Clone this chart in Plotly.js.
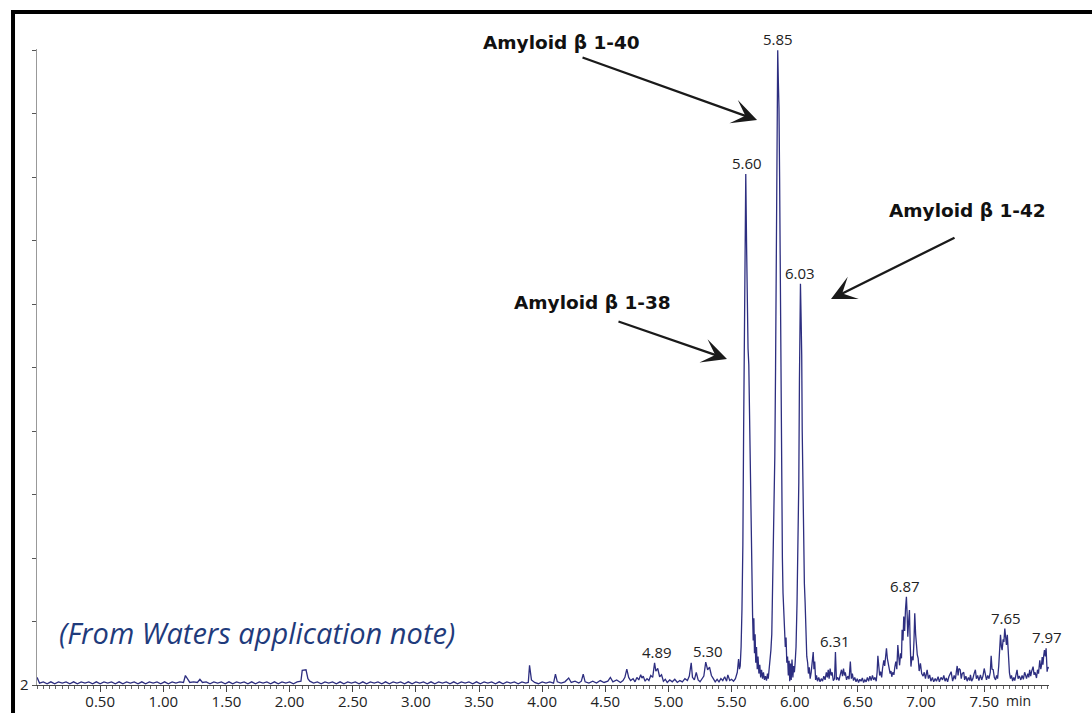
<!DOCTYPE html>
<html><head><meta charset="utf-8">
<script src="https://cdn.plot.ly/plotly-3.0.1.min.js"></script>
<style>html,body{margin:0;padding:0;background:#fff}#chart{width:1092px;height:713px}</style>
</head><body><div id="chart"></div>
<script>
// Retention time (min) and relative signal (%), in four segments
const rtBaseline = [
  0.00, 0.02, 0.05, 0.08, 0.11, 0.14, 0.17, 0.20, 0.23, 0.26,
  0.29, 0.32, 0.35, 0.38, 0.41, 0.44, 0.47, 0.50, 0.53, 0.56,
  0.59, 0.62, 0.65, 0.68, 0.71, 0.74, 0.77, 0.80, 0.83, 0.86,
  0.89, 0.92, 0.95, 0.98, 1.01, 1.04, 1.07, 1.10, 1.13, 1.16,
  1.175, 1.19, 1.21, 1.24, 1.27, 1.29, 1.31, 1.34, 1.37, 1.40,
  1.43, 1.46, 1.49, 1.52, 1.55, 1.58, 1.61, 1.64, 1.67, 1.70,
  1.73, 1.76, 1.79, 1.82, 1.85, 1.88, 1.91, 1.94, 1.97, 2.00,
  2.03, 2.06, 2.09, 2.10, 2.13, 2.145, 2.16, 2.19, 2.22, 2.25,
  2.28, 2.31, 2.34, 2.37, 2.40, 2.43, 2.46, 2.49, 2.52, 2.55,
  2.58, 2.61, 2.64, 2.67, 2.70, 2.73, 2.76, 2.79, 2.82, 2.85,
  2.88, 2.91, 2.94, 2.97, 3.00, 3.03, 3.06, 3.09, 3.12, 3.15,
  3.18, 3.21, 3.24, 3.27, 3.30, 3.33, 3.36, 3.39, 3.42, 3.45,
  3.48, 3.51, 3.54, 3.57, 3.60, 3.63, 3.66, 3.69, 3.72, 3.75,
  3.78, 3.81, 3.84, 3.87, 3.89, 3.90, 3.915, 3.94
];
const sigBaseline = [
  1.2, 0.3, 0.5, 0.2, 0.5, 0.2, 0.5, 0.3, 0.5, 0.2,
  0.5, 0.2, 0.5, 0.3, 0.5, 0.2, 0.5, 0.2, 0.5, 0.3,
  0.5, 0.2, 0.5, 0.2, 0.5, 0.3, 0.5, 0.2, 0.5, 0.2,
  0.5, 0.3, 0.5, 0.2, 0.5, 0.2, 0.5, 0.3, 0.5, 0.4,
  1.5, 1.0, 0.4, 0.5, 0.4, 0.9, 0.4, 0.5, 0.2, 0.5,
  0.3, 0.5, 0.2, 0.5, 0.2, 0.5, 0.3, 0.5, 0.2, 0.5,
  0.2, 0.5, 0.3, 0.5, 0.2, 0.5, 0.2, 0.5, 0.3, 0.5,
  0.2, 0.5, 0.6, 2.3, 2.4, 1.0, 0.6, 0.3, 0.5, 0.2,
  0.5, 0.3, 0.5, 0.2, 0.5, 0.2, 0.5, 0.3, 0.5, 0.2,
  0.5, 0.2, 0.5, 0.3, 0.5, 0.2, 0.5, 0.2, 0.5, 0.3,
  0.5, 0.2, 0.5, 0.2, 0.5, 0.3, 0.5, 0.2, 0.5, 0.2,
  0.5, 0.3, 0.5, 0.2, 0.5, 0.2, 0.5, 0.3, 0.5, 0.2,
  0.5, 0.2, 0.5, 0.3, 0.5, 0.2, 0.5, 0.2, 0.5, 0.3,
  0.5, 0.2, 0.5, 0.3, 0.4, 3.1, 0.8, 0.4
];
const rtEarly = [
  3.97, 4.00, 4.03, 4.06, 4.09, 4.105, 4.12, 4.15, 4.18, 4.21,
  4.23, 4.26, 4.29, 4.31, 4.325, 4.34, 4.37, 4.40, 4.43, 4.46,
  4.49, 4.52, 4.54, 4.56, 4.59, 4.62, 4.64, 4.655, 4.67, 4.685,
  4.70, 4.72, 4.735, 4.75, 4.765, 4.78, 4.79, 4.80, 4.815, 4.83,
  4.845, 4.86, 4.875, 4.89, 4.90, 4.915, 4.93, 4.945, 4.96, 4.975,
  4.99, 5.01, 5.03, 5.05, 5.07, 5.09, 5.11, 5.13, 5.15, 5.165,
  5.18, 5.19, 5.205, 5.22, 5.235, 5.25, 5.265, 5.28, 5.295, 5.31,
  5.325, 5.34, 5.355, 5.37, 5.385, 5.40, 5.415, 5.43, 5.445, 5.46,
  5.47, 5.485, 5.50, 5.515, 5.53, 5.545, 5.555, 5.562
];
const sigEarly = [
  0.2, 0.5, 0.3, 0.5, 0.3, 1.7, 0.5, 0.3, 0.5, 1.1,
  0.4, 0.6, 0.3, 0.6, 1.7, 0.5, 0.3, 0.6, 0.3, 0.7,
  0.4, 0.6, 1.2, 0.5, 0.8, 0.4, 0.7, 1.2, 2.5, 1.2,
  0.7, 1.0, 0.5, 1.2, 0.8, 1.6, 1.1, 1.4, 0.6, 1.0,
  0.7, 1.5, 1.2, 3.5, 2.2, 2.6, 1.3, 1.6, 0.6, 0.9,
  0.4, 0.8, 0.5, 0.9, 0.4, 0.7, 0.5, 1.0, 0.7, 1.4,
  3.5, 1.2, 0.8, 2.0, 0.8, 0.5, 0.9, 1.4, 3.6, 2.4,
  2.8, 1.5, 1.0, 0.5, 0.9, 0.5, 1.0, 0.7, 1.3, 0.6,
  1.6, 0.7, 0.9, 0.6, 1.0, 2.0, 4.1, 2.5
];
const rtPeaks = [
  5.568, 5.575, 5.582, 5.589, 5.595, 5.600, 5.606, 5.612, 5.618, 5.624,
  5.630, 5.636, 5.642, 5.648, 5.654, 5.660, 5.666, 5.671, 5.676, 5.681,
  5.686, 5.691, 5.697, 5.703, 5.709, 5.716, 5.723, 5.730, 5.737, 5.745,
  5.752, 5.760, 5.768, 5.776, 5.784, 5.790, 5.797, 5.804, 5.811, 5.818,
  5.824, 5.830, 5.836, 5.842, 5.848, 5.854, 5.860, 5.865, 5.870, 5.875,
  5.880, 5.886, 5.892, 5.897, 5.902, 5.907, 5.913, 5.919, 5.925, 5.931,
  5.937, 5.943, 5.949, 5.955, 5.960, 5.966, 5.972, 5.978, 5.985, 5.991,
  5.997, 6.003, 6.010, 6.018, 6.025, 6.032, 6.037, 6.041, 6.045, 6.050,
  6.055, 6.059, 6.064, 6.070, 6.076, 6.082, 6.088, 6.095, 6.102, 6.108,
  6.115, 6.122
];
const sigPeaks = [
  3.0, 6.0, 12, 22, 40, 58, 72, 80.5, 70, 58,
  53, 50.5, 42, 30, 22, 13, 11, 7, 10.5, 5,
  8, 3.5, 6, 2.5, 4.5, 1.8, 3.2, 1.2, 2.4, 1.0,
  2.0, 0.8, 1.4, 0.7, 1.8, 1.0, 2.5, 3.2, 5.5, 8,
  14, 22, 31, 36, 50, 72, 92, 100, 95, 91,
  80, 60, 40, 30, 20, 14.5, 11, 9, 6, 7.5,
  3.5, 4.5, 1.5, 3.8, 0.6, 3.4, 0.8, 4.0, 1.2, 3.0,
  2.0, 3.5, 6, 13, 22, 32, 48, 60, 63.2, 58,
  52, 40, 33, 20, 16, 13, 8, 4.5, 3.5, 1.8,
  2.8, 1.0
];
const rtLate = [
  6.130, 6.138, 6.146, 6.152, 6.158, 6.165, 6.172, 6.180, 6.190, 6.200,
  6.210, 6.220, 6.230, 6.240, 6.250, 6.258, 6.265, 6.272, 6.280, 6.288,
  6.296, 6.305, 6.315, 6.322, 6.330, 6.340, 6.350, 6.360, 6.370, 6.378,
  6.386, 6.394, 6.400, 6.410, 6.420, 6.430, 6.440, 6.448, 6.456, 6.465,
  6.475, 6.485, 6.495, 6.505, 6.515, 6.525, 6.535, 6.545, 6.555, 6.565,
  6.575, 6.585, 6.595, 6.605, 6.615, 6.625, 6.635, 6.645, 6.652, 6.658,
  6.665, 6.672, 6.680, 6.688, 6.695, 6.705, 6.712, 6.718, 6.726, 6.733,
  6.740, 6.747, 6.755, 6.762, 6.768, 6.776, 6.785, 6.792, 6.800, 6.808,
  6.816, 6.823, 6.830, 6.838, 6.845, 6.850, 6.857, 6.863, 6.870, 6.877,
  6.884, 6.890, 6.895, 6.900, 6.908, 6.914, 6.920, 6.928, 6.937, 6.944,
  6.950, 6.957, 6.963, 6.970, 6.977, 6.985, 6.995, 7.005, 7.016, 7.025,
  7.035, 7.048, 7.058, 7.068, 7.078, 7.090, 7.100, 7.112, 7.122, 7.135,
  7.145, 7.158, 7.170, 7.180, 7.190, 7.200, 7.210, 7.220, 7.238, 7.250,
  7.262, 7.272, 7.280, 7.286, 7.293, 7.300, 7.310, 7.318, 7.326, 7.338,
  7.345, 7.355, 7.365, 7.375, 7.385, 7.391, 7.400, 7.410, 7.420, 7.430,
  7.438, 7.448, 7.458, 7.470, 7.480, 7.490, 7.500, 7.510, 7.518, 7.528,
  7.538, 7.548, 7.555, 7.562, 7.571, 7.580, 7.590, 7.598, 7.606, 7.615,
  7.622, 7.629, 7.636, 7.642, 7.650, 7.656, 7.663, 7.670, 7.676, 7.683,
  7.690, 7.695, 7.700, 7.708, 7.716, 7.725, 7.734, 7.742, 7.750, 7.760,
  7.768, 7.778, 7.790, 7.800, 7.810, 7.820, 7.827, 7.835, 7.845, 7.853,
  7.860, 7.868, 7.876, 7.887, 7.895, 7.903, 7.914, 7.922, 7.930, 7.940,
  7.948, 7.953, 7.959, 7.965, 7.971, 7.977, 7.984, 7.990, 7.998, 8.004,
  8.011
];
const sigLate = [
  2.0, 3.5, 5.2, 2.5, 3.7, 0.8, 1.5, 0.6, 1.2, 0.5,
  1.0, 0.6, 1.4, 0.8, 2.0, 1.2, 2.4, 1.0, 2.6, 1.5,
  2.0, 0.7, 1.0, 5.2, 0.8, 1.2, 0.7, 1.6, 2.4, 1.4,
  2.6, 1.5, 2.0, 0.8, 1.4, 0.9, 3.7, 1.0, 1.8, 0.7,
  1.2, 0.5, 1.0, 0.4, 0.9, 0.6, 1.1, 0.4, 0.8, 0.5,
  1.2, 0.6, 1.4, 0.7, 1.5, 0.8, 1.2, 0.6, 2.0, 4.6,
  2.8, 1.5, 2.1, 1.2, 2.6, 3.9, 3.0, 4.8, 5.8, 4.2,
  3.5, 2.9, 1.8, 2.2, 1.3, 2.0, 1.6, 2.8, 3.7, 2.5,
  6.3, 4.5, 3.1, 5.0, 4.2, 8.7, 7.0, 10.8, 8.5, 12.0,
  13.9, 11.0, 7.6, 9.5, 11.8, 6.5, 2.9, 4.5, 3.9, 7.0,
  11.3, 8.0, 5.8, 4.8, 4.2, 2.2, 3.4, 1.8, 1.4, 2.0,
  1.0, 2.4, 1.0, 1.6, 0.6, 1.2, 0.5, 1.0, 0.6, 1.3,
  0.5, 1.2, 0.8, 1.5, 0.6, 1.1, 0.5, 1.3, 2.1, 0.6,
  1.5, 0.9, 2.2, 3.0, 1.5, 2.6, 2.4, 1.0, 1.8, 2.0,
  0.8, 1.4, 0.6, 1.2, 0.7, 1.6, 0.6, 1.0, 1.8, 2.4,
  1.0, 1.5, 0.7, 1.6, 0.8, 1.4, 2.6, 1.2, 0.8, 1.5,
  1.0, 2.0, 4.6, 2.5, 2.4, 1.2, 0.8, 1.5, 1.0, 3.0,
  5.0, 7.9, 6.0, 5.5, 7.2, 6.8, 8.9, 6.5, 6.3, 7.9,
  5.0, 3.5, 1.9, 1.0, 1.5, 0.6, 1.2, 0.7, 1.6, 2.4,
  1.0, 1.4, 0.8, 1.5, 0.9, 2.0, 1.6, 1.0, 1.8, 1.2,
  2.4, 1.4, 2.2, 2.9, 1.6, 2.0, 1.1, 2.4, 1.8, 3.9,
  2.5, 3.0, 4.4, 3.2, 4.6, 5.5, 4.5, 5.8, 2.1, 2.8,
  2.6
];

// Peak retention-time labels
const peakLabels = ['4.89', '5.30', '5.60', '5.85', '6.03', '6.31', '6.87', '7.65', '7.97'];
const peakLabelRT = [4.91, 5.31, 5.62, 5.87, 6.04, 6.32, 6.87, 7.67, 8.00];
const peakLabelHeight = [3.5, 3.6, 80.5, 100, 63.2, 5.2, 13.9, 8.9, 5.8];

// Compound call-outs
const compoundNames = ['Amyloid β 1-40', 'Amyloid β 1-38', 'Amyloid β 1-42'];

// Axis ticks
const xTickVals = [0.5, 1.0, 1.5, 2.0, 2.5, 3.0, 3.5, 4.0, 4.5, 5.0, 5.5, 6.0, 6.5, 7.0, 7.5];
const xTickText = ['0.50', '1.00', '1.50', '2.00', '2.50', '3.00', '3.50', '4.00', '4.50', '5.00', '5.50', '6.00', '6.50', '7.00', '7.50'];
const yTickVals = [0, 10, 20, 30, 40, 50, 60, 70, 80, 90, 100];
const yTickText = ['2', '', '', '', '', '', '', '', '', '', ''];

const rt = [].concat(rtBaseline, rtEarly, rtPeaks, rtLate);
const signal = [].concat(sigBaseline, sigEarly, sigPeaks, sigLate);

const trace = {
  x: rt, y: signal, type: 'scatter', mode: 'lines',
  line: {color: '#2d2e80', width: 1.3},
  hoverinfo: 'x+y'
};

const tickFont = {family: 'Open Sans, sans-serif', size: 15, color: '#222'};

const annotations = [];
peakLabels.forEach((txt, i) => {
  annotations.push({
    x: peakLabelRT[i], y: peakLabelHeight[i], xref: 'x', yref: 'y',
    text: txt, showarrow: false, xanchor: 'center', yanchor: 'bottom',
    font: tickFont, borderpad: 0
  });
});

const calloutFont = {family: 'DejaVu Sans, sans-serif', size: 18.5, color: '#111', weight: 700};
const calloutText = [
  {x: 0.4387, y: 1.011},
  {x: 0.4694, y: 0.6022},
  {x: 0.8399, y: 0.7453}
];
compoundNames.forEach((name, i) => {
  annotations.push({
    x: calloutText[i].x, y: calloutText[i].y, xref: 'paper', yref: 'paper',
    text: '<b>' + name + '</b>', showarrow: false, xanchor: 'left', yanchor: 'middle',
    font: calloutFont
  });
});
const arrowSpecs = [
  {x: 0.7115, y: 0.8884, ax: -176, ay: -63},
  {x: 0.6818, y: 0.5126, ax: -110, ay: -38},
  {x: 0.7846, y: 0.6069, ax: 125, ay: -62}
];
arrowSpecs.forEach(a => {
  annotations.push({
    x: a.x, y: a.y, xref: 'paper', yref: 'paper', ax: a.ax, ay: a.ay,
    text: '', showarrow: true, arrowhead: 3, arrowsize: 1.8, arrowwidth: 2.3,
    arrowcolor: '#1a1a1a', standoff: 0, startstandoff: 0
  });
});

annotations.push({
  x: 0.9555, y: -0.0245, xref: 'paper', yref: 'paper', text: 'min',
  showarrow: false, xanchor: 'left', yanchor: 'middle',
  font: {family: 'Open Sans, sans-serif', size: 14, color: '#222'}
});
annotations.push({
  x: 0.0198, y: 0.0818, xref: 'paper', yref: 'paper',
  text: '<i>(From Waters application note)</i>', showarrow: false,
  xanchor: 'left', yanchor: 'middle',
  font: {family: 'Open Sans, sans-serif', size: 29, color: '#1f3b7c'}
});

const layout = {
  width: 1092, height: 713,
  margin: {l: 37, r: 43, t: 49, b: 28, pad: 0},
  paper_bgcolor: '#ffffff', plot_bgcolor: '#ffffff',
  showlegend: false,
  xaxis: {
    range: [0, 8.013], showgrid: false, zeroline: false,
    showline: true, linecolor: '#444', linewidth: 1,
    ticks: 'outside', ticklen: 6, tickwidth: 1, tickcolor: '#444',
    ticklabelstandoff: -3,
    tickmode: 'array', tickvals: xTickVals, ticktext: xTickText,
    tickfont: tickFont,
    minor: {ticks: 'outside', ticklen: 3, tickwidth: 1, tickcolor: '#666', tickmode: 'linear', tick0: 0, dtick: 0.05, showgrid: false}
  },
  yaxis: {
    range: [0, 100.2], showgrid: false, zeroline: false,
    showline: true, linecolor: '#999', linewidth: 1.5,
    ticks: 'outside', ticklen: 4, tickwidth: 1, tickcolor: '#555',
    tickmode: 'array', tickvals: yTickVals, ticktext: yTickText,
    tickfont: tickFont
  },
  shapes: [
    {type: 'line', xref: 'paper', yref: 'paper', x0: -0.0237, x1: -0.0237, y0: -0.07, y1: 1.0598,
     line: {color: '#000', width: 4}},
    {type: 'line', xref: 'paper', yref: 'paper', x0: -0.0257, x1: 1.06, y0: 1.0582, y1: 1.0582,
     line: {color: '#000', width: 4}}
  ],
  annotations: annotations
};

Plotly.newPlot('chart', [trace], layout, {displayModeBar: false, staticPlot: true});
</script>
</body></html>
